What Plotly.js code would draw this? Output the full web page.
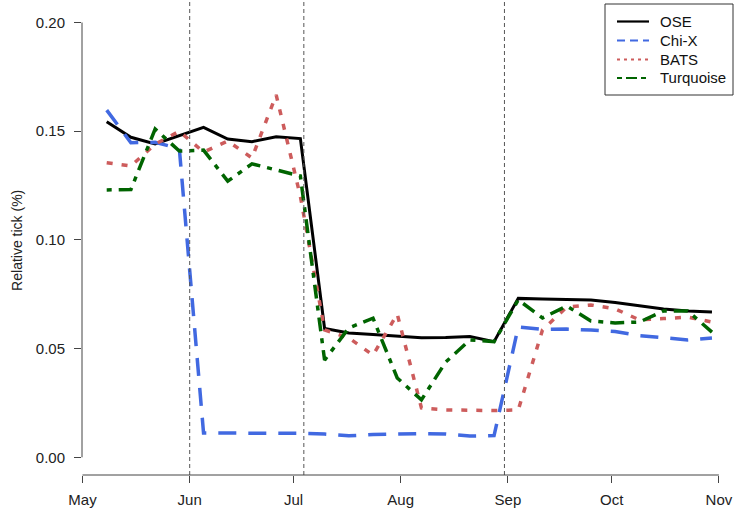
<!DOCTYPE html>
<html>
<head>
<meta charset="utf-8">
<script src="https://cdn.plot.ly/plotly-3.0.1.min.js"></script>
<style>
html,body{margin:0;padding:0;background:#fff;}
#chart{width:735px;height:516px;}
</style>
</head>
<body>
<div id="chart"></div>
<script>
// Weekly observation dates
const dates = ["2012-05-08","2012-05-15","2012-05-22","2012-05-29","2012-06-05","2012-06-12","2012-06-19","2012-06-26",
  "2012-07-03","2012-07-10","2012-07-17","2012-07-24","2012-07-31","2012-08-07","2012-08-14","2012-08-21","2012-08-28",
  "2012-09-04","2012-09-11","2012-09-18","2012-09-25","2012-10-02","2012-10-09","2012-10-16","2012-10-23","2012-10-30"];

const ose = [0.1544,0.1472,0.1441,0.1480,0.1518,0.1464,0.1452,0.1474,0.1466,0.0593,0.0572,0.0565,0.0558,0.0550,0.0551,0.0556,0.0532,
  0.0731,0.0728,0.0726,0.0724,0.0712,0.0696,0.0682,0.0673,0.0668];
const chix = [0.1597,0.1447,0.1449,0.1420,0.0112,0.0112,0.0110,0.0110,0.0110,0.0107,0.0099,0.0105,0.0109,0.0109,0.0107,0.0098,0.0100,
  0.0600,0.0588,0.0590,0.0585,0.0579,0.0560,0.0549,0.0540,0.0549];
const bats = [0.1355,0.1340,0.1440,0.1500,0.1404,0.1455,0.1377,0.1667,0.1200,0.0586,0.0549,0.0470,0.0659,0.0227,0.0218,0.0215,0.0215,
  0.0218,0.0586,0.0691,0.0701,0.0683,0.0632,0.0638,0.0645,0.0622];
const turq = [0.1230,0.1232,0.1510,0.1409,0.1413,0.1270,0.1350,0.1322,0.1294,0.0447,0.0595,0.0640,0.0365,0.0264,0.0438,0.0540,0.0532,
  0.0724,0.0641,0.0696,0.0627,0.0618,0.0622,0.0673,0.0673,0.0576];

const seriesNames = ["OSE","Chi-X","BATS","Turquoise"];
const monthTicks = ["2012-05-01","2012-06-01","2012-07-01","2012-08-01","2012-09-01","2012-10-01","2012-11-01"];
const monthLabels = ["May","Jun","Jul","Aug","Sep","Oct","Nov"];
const yTicks = [0, 0.05, 0.10, 0.15, 0.20];
const yLabels = ["0.00","0.05","0.10","0.15","0.20"];
const eventDates = ["2012-06-01","2012-07-04","2012-08-31"];

function fmt(ms){ return new Date(ms).toISOString().replace('T',' ').replace('Z',''); }
const DAY = 86400000;
const xr = [fmt(Date.UTC(2012,4,1) - 0.14*DAY), fmt(Date.UTC(2012,10,1) + 0.9*DAY)];

const font = "Liberation Sans, Arial, sans-serif";
const colors = ["#000000","#4169E1","#CD5C5C","#006400"];

const traces = [
  {x: dates, y: ose, name: seriesNames[0], mode: "lines", line: {color: colors[0], width: 3}},
  {x: dates, y: chix, name: seriesNames[1], mode: "lines", line: {color: colors[1], width: 3.5, dash: "18px,12px"}},
  {x: dates, y: bats, name: seriesNames[2], mode: "lines", line: {color: colors[2], width: 3.5, dash: "6px,9px"}},
  {x: dates, y: turq, name: seriesNames[3], mode: "lines", line: {color: colors[3], width: 3.5, dash: "5px,7px,14px,7px"}}
];

// plot area in pixels: x 82..722, y 5..475
const PL = 82, PW = 640, PT = 5, PH = 470;
const px = v => (v - PL) / PW;
const py = v => (PT + PH - v) / PH;

const shapes = eventDates.map(d => ({type: "line", xref: "x", yref: "paper", x0: d, x1: d, y0: 0, y1: 1.01,
  line: {color: "#555555", width: 1, dash: "4px,3px"}}));
shapes.push({type: "line", xref: "paper", yref: "y", x0: 0, x1: 0, y0: 0, y1: 0.2, line: {color: "#444444", width: 1}});
shapes.push({type: "line", xref: "x", yref: "paper", x0: monthTicks[0], x1: monthTicks[6], y0: 0, y1: 0, line: {color: "#444444", width: 1}});

// manual legend (R-style box)
shapes.push({type: "rect", xref: "paper", yref: "paper", x0: px(605), x1: px(733), y0: py(4), y1: py(95),
  line: {color: "#333333", width: 1}, fillcolor: "rgba(255,255,255,0)"});
const legY = [21.5, 40.5, 59.5, 78];
const legDash = ["solid", "8px,5px", "3px,4px", "5px,4px,11px,4px"];
const legW = [2.2, 2, 2, 2];
const annotations = [{text: "Relative tick (%)", xref: "paper", yref: "y", x: -0.1016, y: 0.1, showarrow: false,
    textangle: -90, xanchor: "center", yanchor: "middle", font: {family: font, size: 14, color: "#222222"}}];
seriesNames.forEach((n, i) => {
  shapes.push({type: "line", xref: "paper", yref: "paper", x0: px(617), x1: px(649), y0: py(legY[i]), y1: py(legY[i]),
    line: {color: colors[i], width: legW[i], dash: legDash[i]}});
  annotations.push({text: n, xref: "paper", yref: "paper", x: px(658), y: py(legY[i]), xanchor: "left", yanchor: "middle",
    showarrow: false, font: {family: font, size: 15, color: "#111111"}});
});

const layout = {
  width: 735, height: 516,
  margin: {l: PL, r: 735 - PL - PW, t: PT, b: 516 - PT - PH},
  paper_bgcolor: "#ffffff", plot_bgcolor: "#ffffff",
  font: {family: font, color: "#222222", size: 15},
  showlegend: false,
  xaxis: {type: "date", range: xr, showgrid: false, zeroline: false, showline: false,
    tickvals: monthTicks, ticktext: monthLabels, ticks: "outside", ticklen: 7, tickcolor: "#444444", tickwidth: 1,
    ticklabelstandoff: 4, tickfont: {family: font, size: 15, color: "#222222"}},
  yaxis: {range: [-0.00814, 0.20805], showgrid: false, zeroline: false, showline: false,
    tickvals: yTicks, ticktext: yLabels, ticks: "outside", ticklen: 7, tickcolor: "#444444", tickwidth: 1,
    ticklabelstandoff: 6, tickfont: {family: font, size: 15, color: "#222222"}},
  shapes: shapes,
  annotations: annotations
};

Plotly.newPlot("chart", traces, layout, {displayModeBar: false, staticPlot: true});
</script>
</body>
</html>
